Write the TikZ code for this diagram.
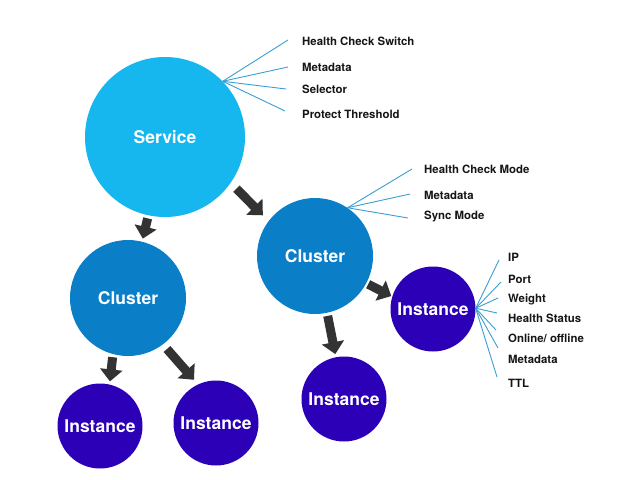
\documentclass[tikz,border=0pt]{standalone}
\usepackage{fontspec}
\setmainfont{TeX Gyre Heros}
\usetikzlibrary{arrows.meta,calc}
\definecolor{svccol}{HTML}{16B6EE}
\definecolor{clcol}{HTML}{0B7EC8}
\definecolor{instcol}{HTML}{2C00B6}
\definecolor{arrcol}{HTML}{333333}
\definecolor{linecol}{HTML}{3A9FD2}
\definecolor{txtcol}{HTML}{151515}
\tikzset{
  ball/.style={circle,inner sep=0pt,text=white,font=\fontsize{17.5}{17.5}\selectfont\bfseries},
  svcball/.style={ball,fill=svccol,minimum size=160pt},
  clball/.style={ball,fill=clcol,minimum size=116pt},
  instball/.style={ball,fill=instcol,minimum size=85pt},
  bigarrow/.style={draw=arrcol,line width=9pt,-{Triangle[width=22pt,length=12pt]},arrcol},
  lbl/.style={anchor=west,inner sep=0pt,text=txtcol,font=\fontsize{11.4}{11.4}\selectfont\bfseries},
  thin/.style={draw=linecol,line width=0.9pt}
}
\begin{document}
\begin{tikzpicture}[x=1pt,y=-1pt]
\useasboundingbox (0,0) rectangle (628,479);
\fill[white] (0,0) rectangle (628,479);

\node[svcball] (svc) at (165,137) {Service};
\node[clball] (cl1) at (128,298) {Cluster};
\node[clball] (cl2) at (315,256) {Cluster};
\node[instball] (in1) at (100,426) {Instance};
\node[instball] (in2) at (216,423) {Instance};
\node[instball] (in3) at (344,399) {Instance};
\node[instball] (in4) at (433,309) {Instance};

% arrows
\draw[bigarrow,shorten <=3pt,shorten >=3pt] (svc.-102) -- (cl1.76);
\draw[bigarrow,shorten <=8pt,shorten >=8pt] (svc.-35) -- (cl2.143);
\draw[bigarrow,shorten <=3pt,shorten >=3pt] (cl1.-105) -- (in1.77);
\draw[bigarrow,shorten <=6pt,shorten >=6pt] (cl1.-53) -- (in2.115);
\draw[bigarrow,shorten <=3pt,shorten >=3pt] (cl2.-78) -- (in3.101);
\draw[bigarrow,shorten <=2pt,shorten >=1pt] (cl2.-28) -- (in4.163);

% service labels
\node[lbl] (s1) at (302,41) {Health Check Switch};
\node[lbl] (s2) at (302,67) {Metadata};
\node[lbl] (s3) at (302,89) {Selector};
\node[lbl] (s4) at (302,114) {Protect Threshold};
\coordinate (se1) at (288,40);
\coordinate (se2) at (288,67);
\coordinate (se3) at (286,89);
\coordinate (se4) at (285,111);
\foreach \i in {1,...,4} \draw[thin] (svc.44) -- (se\i);

% cluster labels
\node[lbl] (c1) at (424,169) {Health Check Mode};
\node[lbl] (c2) at (424,195) {Metadata};
\node[lbl] (c3) at (424,217) {Sync Mode};
\coordinate (ce1) at (412,169);
\coordinate (ce2) at (410,194);
\coordinate (ce3) at (408,218);
\foreach \i in {1,...,3} \draw[thin] (cl2.56) -- (ce\i);

% instance labels
\node[lbl] (i1) at (508,257) {IP};
\node[lbl] (i2) at (508,279) {Port};
\node[lbl] (i3) at (508,299) {Weight};
\node[lbl] (i4) at (508,318) {Health Status};
\node[lbl] (i5) at (508,338) {Online/ offline};
\node[lbl] (i6) at (508,359) {Metadata};
\node[lbl] (i7) at (508,383) {TTL};
\coordinate (ie1) at (499,260);
\coordinate (ie2) at (501,282);
\coordinate (ie3) at (498,298);
\coordinate (ie4) at (497,313);
\coordinate (ie5) at (496,330);
\coordinate (ie6) at (498,348);
\coordinate (ie7) at (497,377);
\foreach \i in {1,...,7} \draw[thin] (in4.1) -- (ie\i);
\end{tikzpicture}
\end{document}
